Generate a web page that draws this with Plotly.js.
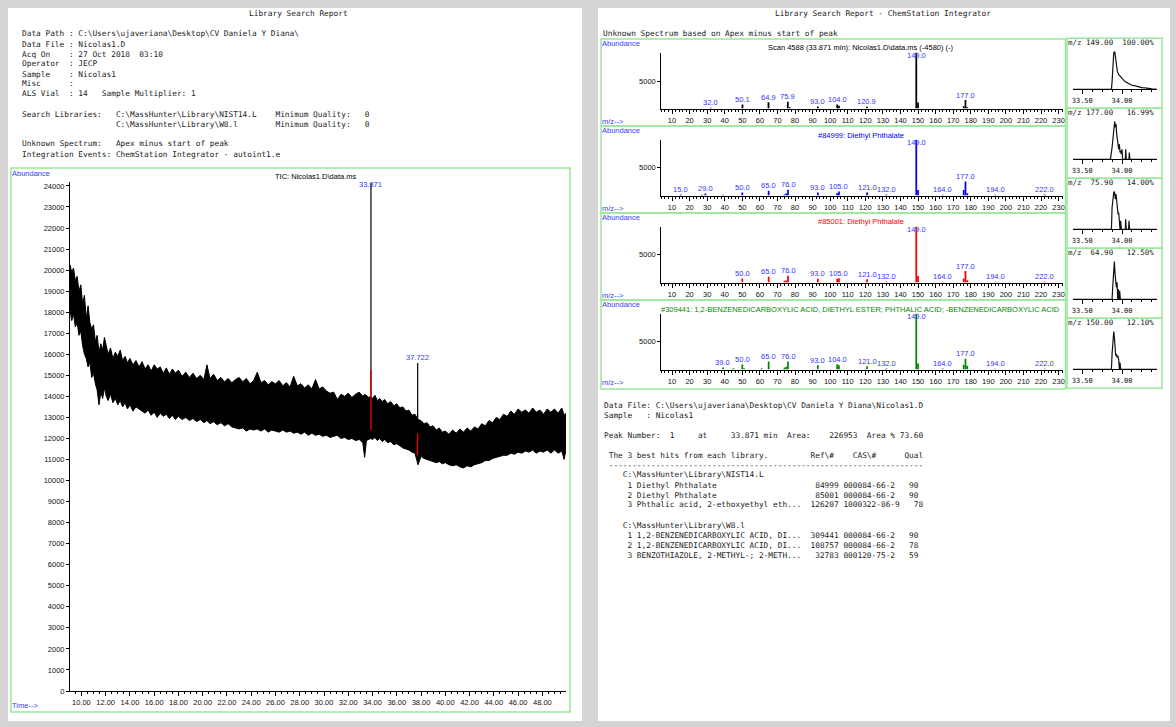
<!DOCTYPE html>
<html>
<head>
<meta charset="utf-8">
<script src="https://cdn.plot.ly/plotly-3.0.1.min.js"></script>
<style>
  html, body { margin: 0; padding: 0; background: #d4d4d4; }
  #chart { width: 1176px; height: 727px; }
</style>
</head>
<body>
<div id="chart"></div>
<script>
// ---------- TIC (total ion chromatogram) ----------
// noise band of the TIC: upper and lower envelope of the trace
const ticTime = [9.06, 9.20, 9.35, 9.50, 9.65, 9.80, 9.95, 10.10, 10.25, 10.40, 10.55, 10.70, 10.85, 11.00, 11.15, 11.30, 11.45, 11.60, 11.75, 11.90, 12.05, 12.20, 12.40, 12.60, 12.80, 13.00, 13.20, 13.40, 13.60, 13.80, 14.00, 14.25, 14.50, 14.75, 15.00, 15.25, 15.50, 15.75, 16.00, 16.25, 16.50, 16.75, 17.00, 17.25, 17.50, 17.75, 18.00, 18.30, 18.60, 18.90, 19.20, 19.50, 19.80, 20.10, 20.35, 20.60, 20.90, 21.20, 21.50, 21.80, 22.10, 22.40, 22.70, 23.00, 23.30, 23.60, 23.90, 24.20, 24.50, 24.80, 25.10, 25.40, 25.70, 26.00, 26.30, 26.60, 26.90, 27.20, 27.50, 27.80, 28.10, 28.40, 28.70, 29.00, 29.30, 29.60, 29.90, 30.20, 30.50, 30.80, 31.10, 31.40, 31.70, 32.00, 32.30, 32.60, 32.90, 33.20, 33.35, 33.50, 33.70, 33.85, 34.00, 34.20, 34.40, 34.60, 34.80, 35.00, 35.25, 35.50, 35.75, 36.00, 36.25, 36.50, 36.75, 37.00, 37.25, 37.50, 37.75, 38.00, 38.25, 38.50, 38.75, 39.00, 39.25, 39.50, 39.75, 40.00, 40.30, 40.60, 40.90, 41.20, 41.50, 41.80, 42.10, 42.40, 42.70, 43.00, 43.30, 43.60, 43.90, 44.20, 44.50, 44.80, 45.10, 45.40, 45.70, 46.00, 46.30, 46.60, 46.90, 47.20, 47.50, 47.80, 48.10, 48.40, 48.70, 49.00, 49.30, 49.60, 49.80, 49.95];
const ticUpper = [20250, 19900, 20100, 19500, 19700, 19000, 19300, 18400, 18800, 17700, 18300, 17500, 17200, 17400, 16600, 16900, 16100, 16500, 16200, 16800, 16400, 16000, 16300, 15800, 16100, 15900, 16200, 15700, 15900, 15600, 15800, 15500, 15700, 15400, 15650, 15300, 15500, 15200, 15500, 15300, 15400, 15100, 15350, 15050, 15300, 15100, 15250, 14950, 15150, 14900, 15100, 14850, 15000, 14800, 15500, 14850, 15050, 14750, 14900, 14700, 14850, 14650, 14800, 14900, 14700, 14850, 14600, 14750, 15150, 14650, 14750, 14550, 14700, 14600, 14750, 14500, 14650, 14450, 14950, 14500, 14600, 14400, 14550, 14350, 14800, 14350, 14450, 14250, 14150, 14200, 13850, 14100, 14000, 14150, 13950, 14100, 14200, 14000, 14100, 14050, 13950, 14000, 13900, 14050, 13800, 13900, 13750, 13850, 13650, 13750, 13550, 13650, 13450, 13500, 13300, 13350, 13100, 13150, 12900, 12850, 12700, 12750, 12550, 12600, 12400, 12500, 12300, 12350, 12200, 12400, 12250, 12450, 12300, 12500, 12350, 12550, 12450, 12700, 12600, 12850, 12750, 13000, 12900, 13150, 13050, 13300, 13150, 13400, 13250, 13350, 13200, 13450, 13250, 13350, 13150, 13400, 13250, 13400, 13200, 13450, 13100, 13200];
const ticLower = [18100, 17600, 17900, 17300, 17500, 16900, 17100, 16400, 16000, 15800, 15400, 15600, 14900, 15100, 14600, 14300, 13600, 14200, 13900, 14400, 14000, 13800, 14100, 13700, 13900, 13600, 13800, 13500, 13700, 13400, 13600, 13300, 13500, 13400, 13300, 13200, 13350, 13100, 13250, 13000, 13200, 13050, 13150, 12950, 13100, 12900, 13050, 12900, 13000, 12850, 12950, 12800, 12900, 12750, 12850, 12700, 12800, 12650, 12750, 12600, 12700, 12550, 12500, 12450, 12500, 12350, 12450, 12400, 12450, 12350, 12450, 12300, 12400, 12350, 12300, 12400, 12300, 12350, 12250, 12300, 12200, 12300, 12150, 12250, 12150, 12200, 12100, 12150, 12050, 12100, 12150, 12000, 12050, 11950, 12000, 11900, 11950, 11800, 11100, 11900, 11950, 12000, 11950, 12050, 11900, 12000, 11850, 11950, 11800, 11850, 11700, 11750, 11650, 11550, 11500, 11450, 11350, 11300, 10750, 11150, 11050, 11000, 10950, 10900, 10850, 10900, 10800, 10850, 10750, 10700, 10750, 10650, 10600, 10700, 10650, 10750, 10800, 10850, 10950, 10950, 11050, 11100, 11150, 11200, 11200, 11300, 11250, 11350, 11300, 11400, 11350, 11450, 11300, 11400, 11350, 11450, 11300, 11450, 11300, 11400, 11000, 11500];

// integrated peaks: retention time, apex abundance, foot of the spike
const ticPeakTime = [33.871, 37.722];
const ticPeakTop = [24150, 15590];
const ticPeakFoot = [12000, 11300];
// red integration marks on each peak
const ticMarkTime = [[33.871, 33.871], [37.722, 37.69]];
const ticMarkAbund = [[15250, 12400], [12250, 11200]];

// ---------- mass spectra ----------
const unkMz = [32.0, 50.1, 64.9, 75.9, 77.0, 93.0, 104.0, 105.0, 120.9, 149.0, 150.0, 176.0, 177.0, 178.0];
const unkAb = [120, 730, 1160, 1220, 240, 370, 730, 490, 300, 10200, 1100, 430, 1530, 240];
const unkLabels = [32.0, 50.1, 64.9, 75.9, 93.0, 104.0, 120.9, 149.0, 177.0];

const hit1Mz = [15, 27, 29, 39, 50, 65, 74, 75, 76, 93, 104, 105, 121, 132, 149, 150, 164, 176, 177, 178, 194, 222];
const hit1Ab = [180, 120, 360, 120, 540, 840, 180, 360, 1020, 540, 420, 720, 540, 180, 9999, 1000, 120, 960, 2520, 420, 120, 180];
const hit1Labels = [15, 29, 50, 65, 76, 93, 105, 121, 132, 149, 164, 177, 194, 222];

const hit2Mz = [50, 65, 74, 75, 76, 93, 104, 105, 121, 132, 149, 150, 164, 176, 177, 178, 194, 222];
const hit2Ab = [720, 1020, 300, 360, 1200, 660, 660, 780, 600, 180, 9999, 1140, 120, 720, 2040, 420, 120, 180];
const hit2Labels = [50, 65, 76, 93, 105, 121, 132, 149, 164, 177, 194, 222];

const hit3Mz = [39, 45, 50, 51, 61, 65, 74, 75, 76, 93, 104, 105, 121, 132, 149, 150, 164, 176, 177, 178, 194, 222];
const hit3Ab = [360, 240, 890, 240, 240, 1430, 360, 480, 1430, 770, 950, 770, 600, 180, 9999, 1070, 180, 830, 1900, 650, 120, 120];
const hit3Labels = [39, 50, 65, 76, 93, 104, 121, 132, 149, 164, 177, 194, 222];

const spectrumTitles = [
  'Scan 4588 (33.871 min): Nicolas1.D\\data.ms (-4580) (-)',
  '#84999: Diethyl Phthalate',
  '#85001: Diethyl Phthalate',
  '#309441: 1,2-BENZENEDICARBOXYLIC ACID, DIETHYL ESTER; PHTHALIC ACID; -BENZENEDICARBOXYLIC ACID'
];

// ---------- extracted ion chromatograms (relative %) ----------
const eicHeaders = ['m/z 149.00  100.00%', 'm/z 177.00   16.99%', 'm/z  75.90   14.00%', 'm/z  64.90   12.50%', 'm/z 150.00   12.10%'];
const eic149T = [33.383, 33.867, 33.875, 33.883, 33.896, 33.908, 33.921, 33.929, 33.942, 33.958, 33.979, 34.0, 34.021, 34.042, 34.083, 34.125, 34.167, 34.208, 34.25, 34.292, 34.333, 34.375, 34.4375];
const eic149Y = [0, 0, 19.6, 55.4, 95.5, 100, 82.1, 59.8, 46.4, 39.3, 33.0, 28.6, 24.1, 19.6, 15.2, 10.7, 8.9, 6.3, 4.5, 3.6, 1.8, 0.9, 0];
const eic177T = [33.383, 33.854, 33.875, 33.8875, 33.9, 33.908, 33.917, 33.925, 33.933, 33.942, 33.95, 33.958, 33.967, 33.975, 33.983, 33.992, 34.0, 34.008, 34.042, 34.046, 34.054, 34.0875, 34.092, 34.1, 34.4375];
const eic177Y = [0, 0, 31, 66.4, 97.3, 100, 84.1, 92.9, 66.4, 48.7, 35.4, 26.5, 39.8, 17.7, 22.1, 13.3, 26.5, 0, 0, 26.5, 0, 0, 17.7, 0, 0];
const eic76T = [33.383, 33.867, 33.875, 33.883, 33.896, 33.904, 33.917, 33.925, 33.933, 33.942, 33.95, 33.958, 33.967, 33.975, 33.983, 33.992, 34.042, 34.046, 34.054, 34.083, 34.0875, 34.096, 34.4375];
const eic76Y = [0, 0, 57.5, 75.2, 97.3, 100, 79.6, 92.9, 66.4, 57.5, 39.8, 44.2, 26.5, 0, 22.1, 0, 0, 26.5, 0, 0, 22.1, 0, 0];
const eic65T = [33.383, 33.875, 33.883, 33.896, 33.904, 33.9125, 33.921, 33.929, 33.9375, 33.946, 33.954, 33.9625, 33.971, 33.979, 34.4375];
const eic65Y = [0, 0, 31.3, 84.8, 100, 67, 49.1, 31.3, 44.6, 0, 26.8, 0, 22.3, 0, 0];
const eic150T = [33.383, 33.867, 33.875, 33.8875, 33.896, 33.904, 33.9125, 33.921, 33.929, 33.9375, 33.946, 33.958, 33.967, 33.975, 33.983, 34.4375];
const eic150Y = [0, 0, 40.2, 89.3, 100, 84.8, 49.1, 35.7, 40.2, 31.3, 35.7, 26.8, 0, 17.9, 0, 0];

// ---------- report text ----------
const leftTitle = 'Library Search Report';
const rightTitle = 'Library Search Report - ChemStation Integrator';
const headerLines = [
  'Data Path : C:\\Users\\ujaveriana\\Desktop\\CV Daniela Y Diana\\',
  'Data File : Nicolas1.D',
  'Acq On    : 27 Oct 2018  03:10',
  'Operator  : JECP',
  'Sample    : Nicolas1',
  'Misc      :',
  'ALS Vial  : 14   Sample Multiplier: 1',
  '',
  'Search Libraries:   C:\\MassHunter\\Library\\NIST14.L    Minimum Quality:   0',
  '                    C:\\MassHunter\\Library\\W8.l        Minimum Quality:   0',
  '',
  'Unknown Spectrum:   Apex minus start of peak',
  'Integration Events: ChemStation Integrator - autoint1.e'
];
const hitLibraries = ['C:\\MassHunter\\Library\\NIST14.L', 'C:\\MassHunter\\Library\\W8.l'];
const hitNames = [
  ['Diethyl Phthalate', 'Diethyl Phthalate', 'Phthalic acid, 2-ethoxyethyl eth...'],
  ['1,2-BENZENEDICARBOXYLIC ACID, DI...', '1,2-BENZENEDICARBOXYLIC ACID, DI...', 'BENZOTHIAZOLE, 2-METHYL-; 2-METH...']
];
const hitRefs = [['84999', '85001', '126207'], ['309441', '108757', '32783']];
const hitCas = [['000084-66-2', '000084-66-2', '1000322-86-9'], ['000084-66-2', '000084-66-2', '000120-75-2']];
const hitQual = [['90', '90', '78'], ['90', '78', '59']];

// ---------- page geometry helpers ----------
const W = 1176, H = 727;
const fx = x => x / W;
const fy = y => 1 - y / H;
const nb = s => s.replace(/ /g, '\u00A0');
const MONO = 'DejaVu Sans Mono, monospace';
const SANS = 'Liberation Sans, Arial, sans-serif';
const GREEN = '#9be89b';
const LABEL_BLUE = '#3434ff';

const traces = [];
const annotations = [];
const shapes = [];

function note(x, y, text, o) {
  return Object.assign({
    xref: 'paper', yref: 'paper', x: fx(x), y: fy(y), text: text,
    showarrow: false, xanchor: 'left', yanchor: 'middle',
    borderpad: 0, borderwidth: 0,
    font: { family: MONO, size: 7.8, color: '#1a1a1a' }
  }, o || {});
}

function axisBase(extra) {
  return Object.assign({
    showgrid: false, zeroline: false, showline: true, linecolor: '#000', linewidth: 1,
    ticks: 'outside', tickcolor: '#000', ticklen: 3, tickwidth: 1,
    tickfont: { family: SANS, size: 7.5, color: '#111' }, fixedrange: true
  }, extra);
}

// pages
shapes.push({ type: 'rect', xref: 'paper', yref: 'paper', x0: fx(8), x1: fx(582), y0: fy(721), y1: fy(8), fillcolor: '#fff', line: { width: 0 }, layer: 'below' });
shapes.push({ type: 'rect', xref: 'paper', yref: 'paper', x0: fx(598), x1: fx(1170), y0: fy(721), y1: fy(8), fillcolor: '#fff', line: { width: 0 }, layer: 'below' });

// ---------- left page ----------
annotations.push(note(298, 14, nb(leftTitle), { xanchor: 'center' }));
headerLines.forEach((s, i) => {
  if (s) annotations.push(note(22, 34 + 10 * i, nb(s)));
});

shapes.push({ type: 'rect', xref: 'paper', yref: 'paper', x0: fx(11), x1: fx(570), y0: fy(712), y1: fy(168), line: { color: GREEN, width: 1.5 } });
annotations.push(note(12, 173, 'Abundance', { font: { family: SANS, size: 7.5, color: '#3b3bff' } }));
annotations.push(note(12, 705, 'Time--&gt;', { font: { family: SANS, size: 7.5, color: '#3b3bff' } }));
annotations.push(note(316, 177, 'TIC: Nicolas1.D\\data.ms', { xanchor: 'center', font: { family: SANS, size: 7.5, color: '#000' } }));

traces.push({ type: 'scatter', mode: 'lines', x: ticTime, y: ticLower, xaxis: 'x', yaxis: 'y', line: { color: '#000', width: 1 }, hoverinfo: 'skip' });
traces.push({ type: 'scatter', mode: 'lines', x: ticTime, y: ticUpper, xaxis: 'x', yaxis: 'y', fill: 'tonexty', fillcolor: '#000', line: { color: '#000', width: 1 }, hoverinfo: 'skip' });
ticPeakTime.forEach((t, i) => {
  traces.push({ type: 'scatter', mode: 'lines', x: [t, t], y: [ticPeakFoot[i], ticPeakTop[i]], xaxis: 'x', yaxis: 'y', line: { color: '#000', width: 1.2 }, hoverinfo: 'skip' });
  traces.push({ type: 'scatter', mode: 'lines', x: ticMarkTime[i], y: ticMarkAbund[i], xaxis: 'x', yaxis: 'y', line: { color: '#e00000', width: 1.4 }, hoverinfo: 'skip' });
});
const ticMax = 24200;
ticPeakTime.forEach((t, i) => {
  annotations.push({
    xref: 'x', yref: 'y', x: t, y: ticPeakTop[i], text: t.toFixed(3), showarrow: false,
    yshift: ticPeakTop[i] > 0.95 * ticMax ? -2 : 5,
    font: { family: SANS, size: 7.5, color: LABEL_BLUE }
  });
});

const layout = {
  width: W, height: H,
  margin: { l: 0, r: 0, t: 0, b: 0 },
  paper_bgcolor: '#d4d4d4',
  plot_bgcolor: 'rgba(0,0,0,0)',
  showlegend: false,
  font: { family: SANS, size: 7.5, color: '#000' },
  xaxis: axisBase({
    anchor: 'y', domain: [fx(70), fx(566)], range: [9.06, 49.95],
    tick0: 10, dtick: 2, tickformat: '.2f', ticklen: 4,
    minor: { tick0: 10, dtick: 0.5, ticklen: 2, ticks: 'outside', tickcolor: '#000' }
  }),
  yaxis: axisBase({
    anchor: 'x', domain: [fy(691), fy(181.7)], range: [0, ticMax],
    tick0: 0, dtick: 1000, tickformat: 'd'
  })
};

// ---------- right page ----------
annotations.push(note(883, 14, nb(rightTitle), { xanchor: 'center' }));
annotations.push(note(603, 33, nb('Unknown Spectrum based on Apex minus start of peak')));

const spectra = [
  { mz: unkMz, ab: unkAb, labels: unkLabels, color: '#000', titleColor: '#000' },
  { mz: hit1Mz, ab: hit1Ab, labels: hit1Labels, color: '#0000ff', titleColor: '#0000ff' },
  { mz: hit2Mz, ab: hit2Ab, labels: hit2Labels, color: '#ff0000', titleColor: '#ff0000' },
  { mz: hit3Mz, ab: hit3Ab, labels: hit3Labels, color: '#008a00', titleColor: '#008a00' }
];
const specTop = [39, 126, 213, 300];

spectra.forEach((sp, i) => {
  const k = i + 2;
  const T = specTop[i];
  const xa = 'x' + k, ya = 'y' + k;
  const ymax = Math.max(...sp.ab);
  layout['xaxis' + k] = axisBase({
    anchor: ya, domain: [fx(661.3), fx(1063)], range: [3.9, 232.5],
    tick0: 0, dtick: 10, ticklen: 4,
    minor: { tick0: 0, dtick: 2, ticklen: 2, ticks: 'outside', tickcolor: '#000' }
  });
  layout['yaxis' + k] = axisBase({
    anchor: xa, domain: [fy(T + 69.5), fy(T + 13.5)], range: [0, ymax],
    tickmode: 'array', tickvals: [5000], ticktext: ['5000']
  });
  traces.push({ type: 'bar', x: sp.mz, y: sp.ab, width: 1.0, xaxis: xa, yaxis: ya, marker: { color: sp.color, line: { width: 0 } }, hoverinfo: 'skip' });
  sp.labels.forEach(m => {
    const a = sp.ab[sp.mz.indexOf(m)];
    annotations.push({
      xref: xa, yref: ya, x: m, y: a, text: m.toFixed(1), showarrow: false,
      yshift: a > 0.95 * ymax ? -3 : 5,
      font: { family: SANS, size: 7.5, color: LABEL_BLUE }
    });
  });
  shapes.push({ type: 'rect', xref: 'paper', yref: 'paper', x0: fx(601), x1: fx(1065.5), y0: fy(T + 87 + (i === 3 ? 2 : 0)), y1: fy(T), line: { color: GREEN, width: 1.5 } });
  annotations.push(note(602, T + 4.5, 'Abundance', { font: { family: SANS, size: 7.5, color: '#3b3bff' } }));
  annotations.push(note(602, T + 82, 'm/z--&gt;', { font: { family: SANS, size: 7.5, color: '#3b3bff' } }));
  if (i < 3) {
    annotations.push(note(861, T + 9, spectrumTitles[i], { xanchor: 'center', font: { family: SANS, size: 7.5, color: sp.titleColor } }));
  } else {
    annotations.push(note(661, T + 10, spectrumTitles[i], { width: 402, align: 'left', font: { family: SANS, size: 7.5, color: sp.titleColor } }));
  }
});

const eics = [[eic149T, eic149Y], [eic177T, eic177Y], [eic76T, eic76Y], [eic65T, eic65Y], [eic150T, eic150Y]];
eics.forEach((e, j) => {
  const k = j + 6;
  const T = 38.3 + 70 * j;
  const xa = 'x' + k, ya = 'y' + k;
  layout['xaxis' + k] = axisBase({
    anchor: ya, domain: [fx(1072.7), fx(1157)], range: [33.38, 34.44],
    tickmode: 'array', tickvals: [33.5, 34.0], ticktext: ['33.50', '34.00'], ticklen: 4,
    tickfont: { family: MONO, size: 7, color: '#111' },
    minor: { tick0: 33.5, dtick: 0.125, ticklen: 2, ticks: 'outside', tickcolor: '#000' }
  });
  layout['yaxis' + k] = { anchor: xa, domain: [fy(T + 51), fy(T + 13)], range: [0, 100], visible: false, fixedrange: true };
  traces.push({ type: 'scatter', mode: 'lines', x: e[0], y: e[1], xaxis: xa, yaxis: ya, line: { color: '#111', width: 1.2 }, hoverinfo: 'skip' });
  shapes.push({ type: 'rect', xref: 'paper', yref: 'paper', x0: fx(1067), x1: fx(1162), y0: fy(T + 70), y1: fy(T), line: { color: GREEN, width: 1.5 } });
  annotations.push(note(1068, T + 4, nb(eicHeaders[j]), { font: { family: MONO, size: 7.5, color: '#1a1a1a' } }));
});

// ---------- hit table ----------
const bottomLines = [];
bottomLines.push([405, 'Data File: C:\\Users\\ujaveriana\\Desktop\\CV Daniela Y Diana\\Nicolas1.D']);
bottomLines.push([415, 'Sample   : Nicolas1']);
bottomLines.push([435, 'Peak Number:  1     at     ' + ticPeakTime[0].toFixed(3) + ' min  Area:    226953  Area % 73.60']);
bottomLines.push([455, ' The 3 best hits from each library.         Ref\\#    CAS\\#      Qual']);
bottomLines.push([465, ' ' + '-'.repeat(67)]);
let yRow = 475;
hitLibraries.forEach((lib, li) => {
  bottomLines.push([yRow, '    ' + lib]);
  yRow += 10;
  hitNames[li].forEach((name, r) => {
    const left = ('     ' + (r + 1) + ' ' + name).padEnd(44);
    bottomLines.push([yRow, left + hitRefs[li][r].padStart(6) + ' ' + hitCas[li][r] + '   ' + hitQual[li][r]]);
    yRow += 10;
  });
  yRow += 10;
});
bottomLines.forEach(([y, s]) => annotations.push(note(604, y, nb(s))));

layout.annotations = annotations;
layout.shapes = shapes;

Plotly.newPlot('chart', traces, layout, { displayModeBar: false, staticPlot: true });
</script>
</body>
</html>
